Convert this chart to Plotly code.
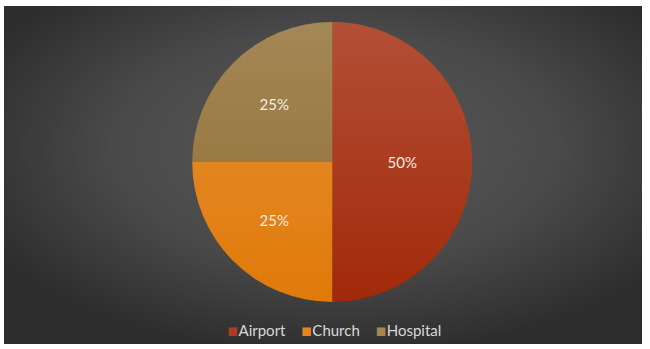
import plotly.graph_objects as go

# Share of sites by type
categories = ["Airport", "Church", "Hospital"]
values = [50, 25, 25]
slice_colors = ["#a2290a", "#e07a0a", "#906d31"]
legend_colors = ["#b03a22", "#e8841e", "#a58752"]

W, H = 650, 349
FONT = "Lato, 'Open Sans', sans-serif"
PIE_X = [0.295, 0.734]
PIE_Y = [0.124, 0.953]

# Dark panel with a soft radial glow behind the chart
bg_svg = (
    "data:image/svg+xml;utf8,"
    "<svg xmlns='http://www.w3.org/2000/svg' width='638' height='338' "
    "viewBox='0 0 638 338' preserveAspectRatio='none'>"
    "<defs><radialGradient id='g' cx='0.52' cy='0.42' r='0.62'>"
    "<stop offset='0' stop-color='%23595959'/>"
    "<stop offset='0.55' stop-color='%234a4a4a'/>"
    "<stop offset='1' stop-color='%232d2d2d'/>"
    "</radialGradient></defs>"
    "<rect width='638' height='338' fill='url(%23g)'/></svg>"
)

# Light sheen on the pie: white fading from the top edge down to nothing
sheen_svg = (
    "data:image/svg+xml;utf8,"
    "<svg xmlns='http://www.w3.org/2000/svg' width='280' height='280' viewBox='0 0 280 280'>"
    "<defs><linearGradient id='s' x1='0' y1='0' x2='0' y2='1'>"
    "<stop offset='0' stop-color='white' stop-opacity='0.18'/>"
    "<stop offset='1' stop-color='white' stop-opacity='0'/>"
    "</linearGradient></defs>"
    "<circle cx='140' cy='140' r='140' fill='url(%23s)'/></svg>"
)

fig = go.Figure()
fig.add_trace(go.Pie(
    labels=categories,
    values=values,
    sort=False,
    direction="clockwise",
    rotation=0,
    marker=dict(colors=slice_colors, line=dict(width=0)),
    textinfo="percent",
    textposition="inside",
    insidetextorientation="horizontal",
    insidetextfont=dict(family=FONT, size=15, color="#f3e9e2"),
    showlegend=False,
    hoverinfo="label+percent",
    domain=dict(x=PIE_X, y=PIE_Y),
))

# Compact legend row: small coloured square followed by the category name
sep = "\u00a0" * 4
legend_text = sep.join(
    f"<span style='color:{c};font-family:DejaVu Sans;font-size:17px'>▪</span>{name}"
    for name, c in zip(categories, legend_colors)
)

fig.update_layout(
    width=W, height=H,
    margin=dict(l=4, r=8, t=6, b=5),
    paper_bgcolor="white",
    plot_bgcolor="rgba(0,0,0,0)",
    images=[
        dict(source=bg_svg, xref="paper", yref="paper", x=0, y=1,
             sizex=1, sizey=1, sizing="stretch", layer="below"),
        dict(source=sheen_svg, xref="paper", yref="paper", x=PIE_X[0], y=PIE_Y[1],
             sizex=PIE_X[1] - PIE_X[0], sizey=PIE_Y[1] - PIE_Y[0],
             sizing="stretch", layer="above"),
    ],
    annotations=[dict(text=legend_text, x=0.518, y=0.041, xref="paper", yref="paper",
                      xanchor="center", yanchor="middle", showarrow=False,
                      font=dict(family=FONT, size=15, color="#d9d9d9"))],
    xaxis=dict(visible=False), yaxis=dict(visible=False),
)

fig.write_html("out.html")
